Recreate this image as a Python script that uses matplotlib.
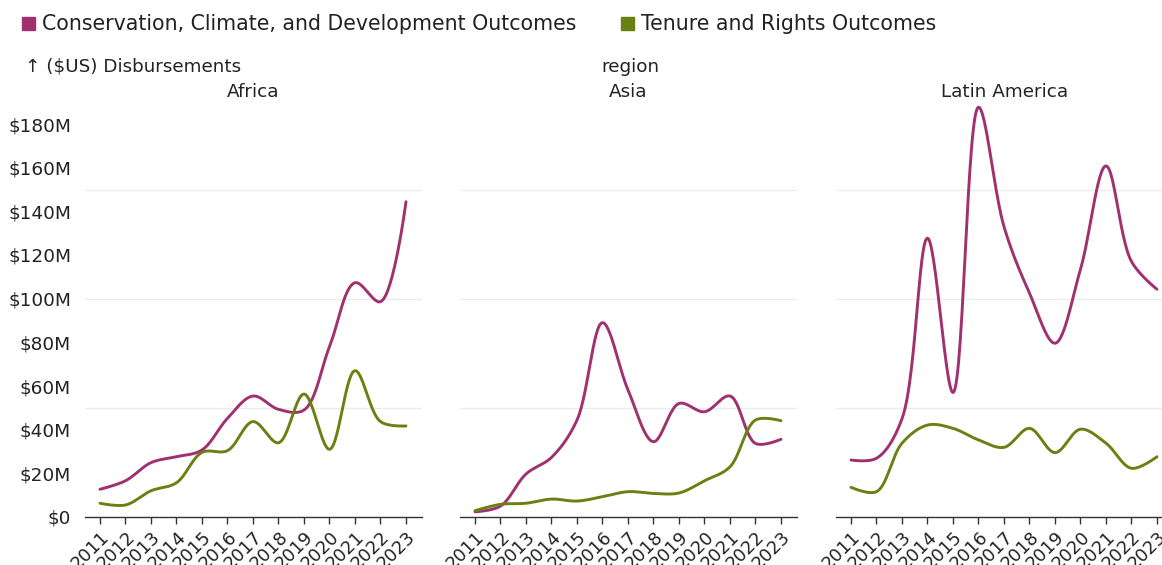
import numpy as np
import matplotlib
matplotlib.use("Agg")
import matplotlib.pyplot as plt
from matplotlib.patches import Rectangle

# Data (millions of US$)
years = list(range(2011, 2024))
regions = ["Africa", "Asia", "Latin America"]
series = ["Conservation, Climate, and Development Outcomes", "Tenure and Rights Outcomes"]
colors = ["#a0306f", "#6b8012"]

africa_ccd = [12.7, 16.6, 24.9, 27.6, 30.7, 45.2, 55.4, 49.3, 49.0, 78.0, 107.3, 98.6, 144.4]
africa_tr = [6.3, 5.5, 12.0, 15.7, 29.6, 30.4, 43.7, 34.0, 56.3, 31.0, 67.0, 43.7, 41.7]
asia_ccd = [2.4, 5.0, 19.7, 27.3, 44.4, 89.0, 58.2, 34.5, 52.0, 48.2, 55.4, 33.7, 35.6]
asia_tr = [2.9, 5.8, 6.3, 8.2, 7.3, 9.3, 11.6, 10.8, 11.0, 16.6, 23.0, 44.4, 44.1]
latam_ccd = [26.1, 26.9, 45.0, 127.7, 57.0, 187.7, 133.0, 102.5, 79.6, 113.5, 160.8, 117.0, 104.3]
latam_tr = [13.6, 11.6, 33.8, 42.1, 40.6, 35.3, 31.9, 40.6, 29.5, 40.2, 33.8, 22.3, 27.6]

data = {
    "Africa": [africa_ccd, africa_tr],
    "Asia": [asia_ccd, asia_tr],
    "Latin America": [latam_ccd, latam_tr],
}

W, H = 1162, 565
fig = plt.figure(figsize=(W / 100, H / 100), dpi=100)
plt.rcParams["font.family"] = "DejaVu Sans"
text_color = "#222222"


def catmull_rom(px, py, alpha=0.5, n=30):
    # d3.curveCatmullRom, computed in pixel space
    pts = np.column_stack([px, py])
    pts = np.vstack([pts[:1], pts, pts[-1:]])
    out = [pts[1]]
    for i in range(1, len(pts) - 2):
        p0, p1, p2, p3 = pts[i - 1], pts[i], pts[i + 1], pts[i + 2]
        l01 = np.hypot(*(p1 - p0)) ** alpha
        l12 = np.hypot(*(p2 - p1)) ** alpha
        l23 = np.hypot(*(p3 - p2)) ** alpha
        c1, c2 = p1.copy(), p2.copy()
        if l01 > 1e-12:
            a = 2 * l01 ** 2 + 3 * l01 * l12 + l12 ** 2
            m = 3 * l01 * (l01 + l12)
            c1 = (p1 * a - p0 * l12 ** 2 + p2 * l01 ** 2) / m
        if l23 > 1e-12:
            b = 2 * l23 ** 2 + 3 * l23 * l12 + l12 ** 2
            m = 3 * l23 * (l23 + l12)
            c2 = (p2 * b + p1 * l23 ** 2 - p3 * l12 ** 2) / m
        t = np.linspace(0, 1, n)[1:, None]
        seg = ((1 - t) ** 3) * p1 + 3 * ((1 - t) ** 2) * t * c1 + 3 * (1 - t) * t ** 2 * c2 + t ** 3 * p2
        out.extend(seg)
    return np.array(out)


lefts = [85, 460, 836]
ax_w = 337
top, bottom = 106, 517
xlim = (2011 - 15 / 25.5, 2023 + 16 / 25.5)
ylim = (0, (bottom - top) / (393 / 180))

for k, region in enumerate(regions):
    ax = fig.add_axes([lefts[k] / W, (H - bottom) / H, ax_w / W, (bottom - top) / H])
    ax.set_xlim(*xlim)
    ax.set_ylim(*ylim)
    for s in ["top", "right", "left"]:
        ax.spines[s].set_visible(False)
    ax.spines["bottom"].set_color("#333333")
    ax.spines["bottom"].set_linewidth(1.0)
    for g in [50, 100, 150]:
        ax.axhline(g, color="#ececec", lw=1.0, zorder=0)

    ax.set_xticks(years)
    ax.set_xticklabels([str(y) for y in years], rotation=45, ha="right",
                       va="top", rotation_mode="anchor", fontsize=13, color=text_color)
    ax.tick_params(axis="x", length=5, width=1, color="#333333", pad=3)
    yt = list(range(0, 181, 20))
    ax.set_yticks(yt)
    if k == 0:
        ax.set_yticklabels(["$0" if v == 0 else "$%dM" % v for v in yt],
                           fontsize=13.3, color=text_color)
    else:
        ax.set_yticklabels([])
    ax.tick_params(axis="y", length=0, pad=10)

    for vals, c in zip(data[region], colors):
        disp = ax.transData.transform(np.column_stack([years, vals]))
        curve = catmull_rom(disp[:, 0], disp[:, 1])
        back = ax.transData.inverted().transform(curve)
        ax.plot(back[:, 0], back[:, 1], color=c, lw=2.1, solid_capstyle="round",
                clip_on=False)

    cx = lefts[k] + ax_w / 2
    fig.text(cx / W, 1 - 92 / H, region, ha="center", va="center",
             fontsize=13.2, color=text_color)

fig.text(630 / W, 1 - 67 / H, "region", ha="center", va="center",
         fontsize=13.2, color=text_color)
fig.text(25 / W, 1 - 67 / H, "↑ ($US) Disbursements", ha="left", va="center",
         fontsize=13.2, color=text_color)

# legend
for x0, label, c in [(22, series[0], colors[0]), (621, series[1], colors[1])]:
    fig.add_artist(Rectangle((x0 / W, 1 - 30 / H), 13 / W, 13 / H,
                             transform=fig.transFigure, color=c))
    fig.text((x0 + 20) / W, 1 - 23.5 / H, label, ha="left", va="center",
             fontsize=14.8, color=text_color)

fig.savefig("out.png", dpi=100)
